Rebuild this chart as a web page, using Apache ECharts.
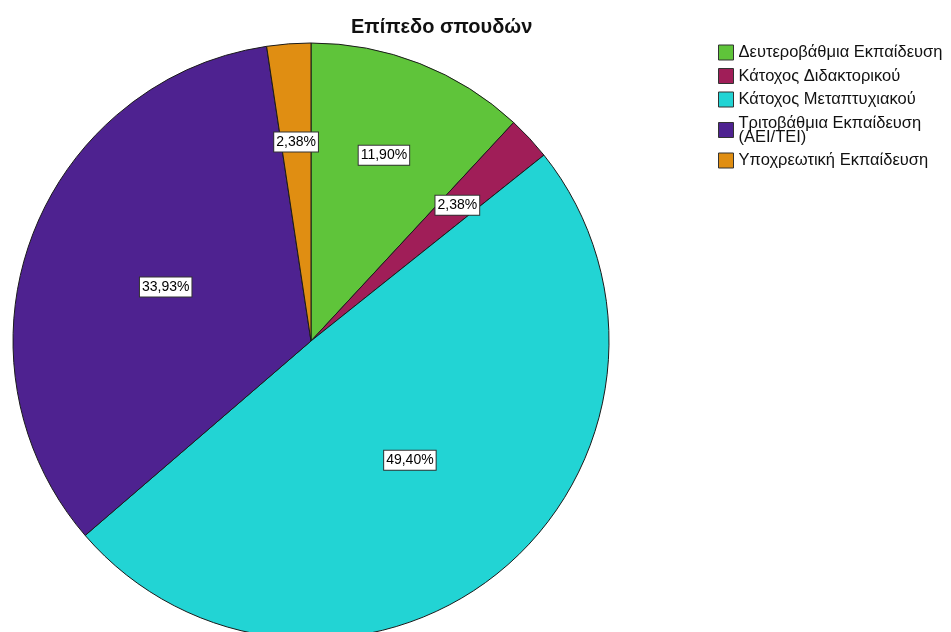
<!DOCTYPE html>
<html>
<head>
<meta charset="utf-8">
<script src="https://cdn.jsdelivr.net/npm/echarts@6/dist/echarts.min.js"></script>
<style>
  html, body { margin: 0; padding: 0; background: #fff; }
  #chart { width: 951px; height: 632px; }
</style>
</head>
<body>
<div id="chart"></div>
<script>
// Education level shares (%)
const categories = [
  'Δευτεροβάθμια Εκπαίδευση',
  'Κάτοχος Διδακτορικού',
  'Κάτοχος Μεταπτυχιακού',
  'Τριτοβάθμια Εκπαίδευση\n(ΑΕΙ/ΤΕΙ)',
  'Υποχρεωτική Εκπαίδευση'
];
const percentages = [11.90, 2.38, 49.40, 33.93, 2.38];
const colors = ['#5fc43a', '#a01e58', '#22d4d4', '#4e2290', '#e08e12'];

const CX = 311, CY = 341, R = 298;
const FONT = 'Liberation Sans, Arial, sans-serif';

const chart = echarts.init(document.getElementById('chart'));

// cumulative start of each slice (in %), clockwise from 12 o'clock
const starts = [];
percentages.reduce((acc, v) => { starts.push(acc); return acc + v; }, 0);
const total = percentages.reduce((a, b) => a + b, 0);

chart.setOption({
  animation: false,
  color: colors,
  title: {
    text: 'Επίπεδο σπουδών',
    left: 346,
    top: 12,
    textStyle: { fontFamily: FONT, fontSize: 20, fontWeight: 'bold', color: '#111' }
  },
  legend: {
    orient: 'vertical',
    left: 713,
    top: 39,
    itemWidth: 15,
    itemHeight: 15,
    itemGap: 6.5,
    icon: 'rect',
    itemStyle: { borderColor: '#333', borderWidth: 1 },
    textStyle: { fontFamily: FONT, fontSize: 16.5, color: '#111', lineHeight: 14 },
    data: categories
  },
  series: [{
    type: 'pie',
    center: [CX, CY],
    radius: R,
    startAngle: 90,
    clockwise: true,
    silent: true,
    itemStyle: { borderColor: '#1a1a1a', borderWidth: 1 },
    label: {
      show: true,
      position: 'inside',
      formatter: p => percentages[p.dataIndex].toFixed(2).replace('.', ',') + '%',
      fontFamily: FONT,
      fontSize: 14,
      color: '#000',
      backgroundColor: '#fff',
      borderColor: '#333',
      borderWidth: 1,
      padding: [3, 2, 2, 2]
    },
    labelLayout: p => {
      const i = p.dataIndex;
      const v = percentages[i];
      const theta = (starts[i] + v / 2) / total * 2 * Math.PI;
      const d = (v < 15 ? 0.67 : 0.52) * R;
      return {
        x: CX + d * Math.sin(theta),
        y: CY - d * Math.cos(theta),
        align: 'center',
        verticalAlign: 'middle'
      };
    },
    data: categories.map((name, i) => ({ name, value: percentages[i] }))
  }]
});
</script>
</body>
</html>
